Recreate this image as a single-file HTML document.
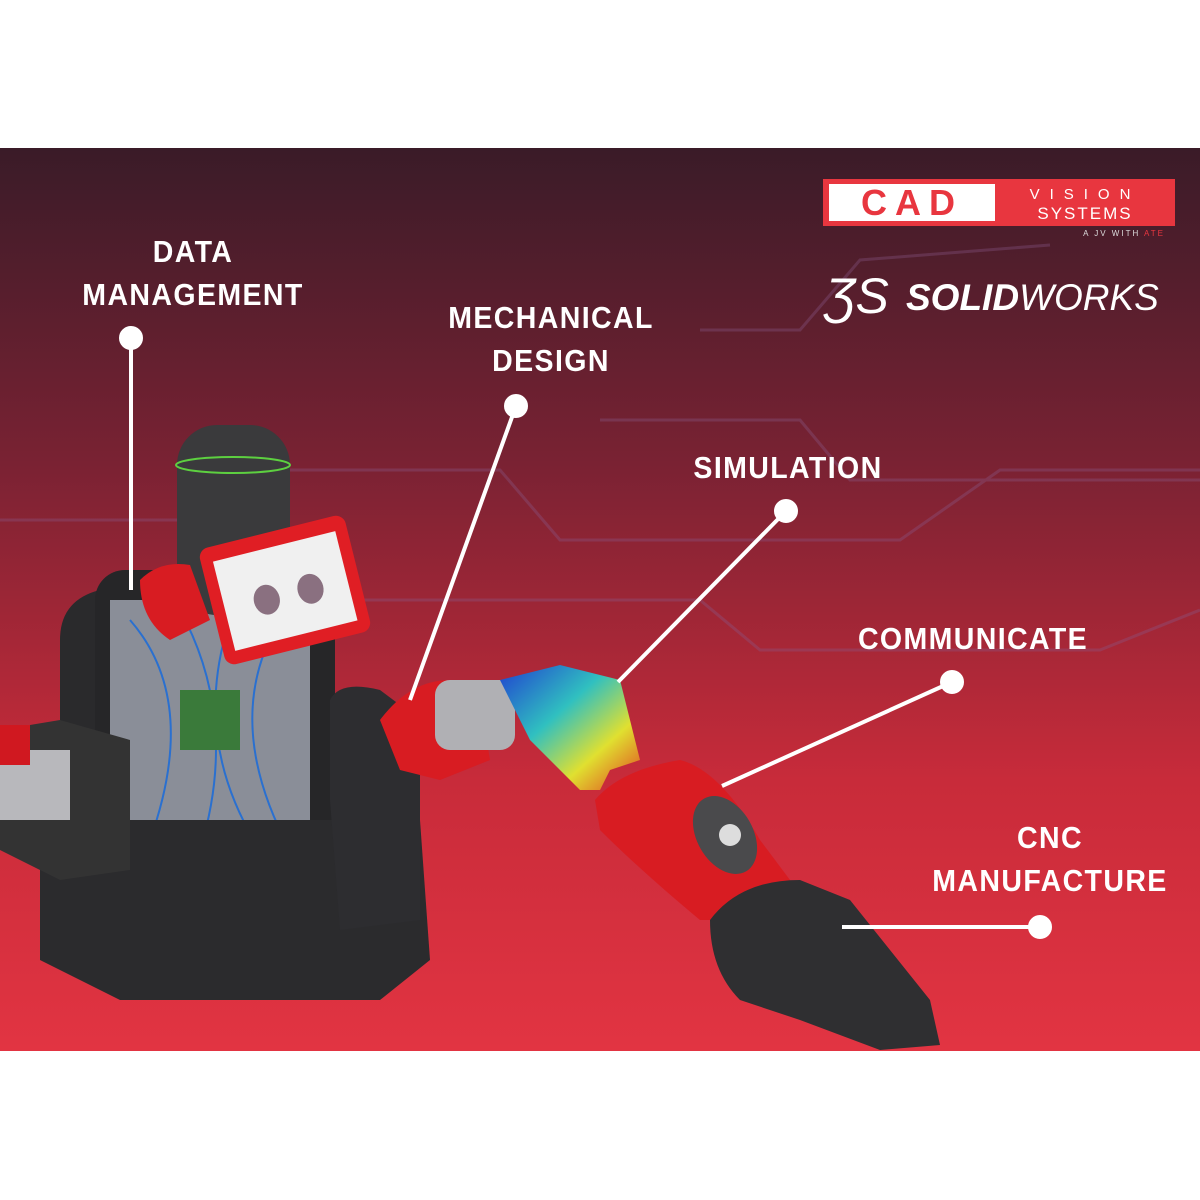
<!DOCTYPE html>
<html><head><meta charset="utf-8"><style>
html,body{margin:0;padding:0;background:#fff;}
#c{position:relative;width:1200px;height:1200px;overflow:hidden;background:#fff;font-family:"Liberation Sans",sans-serif;}
.lbl{position:absolute;color:#fff;font-weight:bold;font-size:31px;letter-spacing:1.5px;text-align:center;line-height:43px;transform:scaleX(0.92);}
</style></head><body><div id="c">
<svg width="1200" height="1200" style="position:absolute;left:0;top:0">
<defs>
<linearGradient id="bg" x1="0" y1="0" x2="0" y2="1">
<stop offset="0" stop-color="#3a1b28"/><stop offset="0.35" stop-color="#7a2233"/><stop offset="0.7" stop-color="#c82b3a"/><stop offset="1" stop-color="#e23442"/>
</linearGradient>
<linearGradient id="sim" x1="0" y1="0" x2="1" y2="1">
<stop offset="0" stop-color="#2040d0"/><stop offset="0.4" stop-color="#30c0c0"/><stop offset="0.7" stop-color="#e0e030"/><stop offset="1" stop-color="#e04020"/>
</linearGradient>
</defs>
<rect x="0" y="148" width="1200" height="903" fill="url(#bg)"/>
<g stroke="#8a5a8a" stroke-width="3" fill="none" opacity="0.35">
<polyline points="0,520 200,520 260,470 500,470 560,540 900,540 1000,470 1200,470"/>
<polyline points="300,600 700,600 760,650 1100,650 1200,610"/>
<polyline points="700,330 800,330 860,260 1050,245"/>
<polyline points="600,420 800,420 850,480 1200,480"/>
</g>
<!-- robot body -->
<path d="M60,640 Q60,600 100,590 L150,580 L150,640 L100,640 L100,820 L60,820 Z" fill="#2a2a2c"/>
<rect x="95" y="570" width="240" height="380" rx="30" fill="#262628"/>
<rect x="110" y="600" width="200" height="260" fill="#8a8e98"/>
<g stroke="#2a70d0" stroke-width="2" fill="none"><path d="M130,620 Q200,700 150,840"/><path d="M180,610 Q240,720 200,850"/><path d="M230,620 Q190,740 260,850"/><path d="M280,620 Q220,720 290,850"/></g>
<rect x="180" y="690" width="60" height="60" fill="#3a7a3a"/>
<path d="M40,820 L420,820 L430,960 L380,1000 L120,1000 L40,960 Z" fill="#2b2b2d"/>
<path d="M0,730 L60,720 L130,740 L130,870 L60,880 L0,850 Z" fill="#333"/>
<rect x="0" y="750" width="70" height="70" fill="#b8b8bc"/>
<rect x="0" y="725" width="30" height="40" fill="#d01820"/>
<path d="M330,700 Q340,680 380,690 L420,720 L420,920 L340,930 L330,800 Z" fill="#2d2d30"/>
<!-- head -->
<rect x="177" y="425" width="113" height="190" rx="40" fill="#3a3a3c"/>
<ellipse cx="233" cy="465" rx="57" ry="8" fill="none" stroke="#5dd040" stroke-width="2"/>
<path d="M140,580 Q160,560 190,565 L210,620 L170,640 Q140,620 140,580Z" fill="#d81c22"/>
<g transform="rotate(-14 285 590)"><rect x="210" y="530" width="150" height="120" rx="10" fill="#e01e24"/><rect x="222" y="545" width="126" height="92" fill="#f0f0f0"/>
<ellipse cx="265" cy="595" rx="13" ry="15" fill="#8a7080"/><ellipse cx="310" cy="595" rx="13" ry="15" fill="#8a7080"/></g>
<!-- right arm -->
<path d="M380,720 Q410,680 450,680 L480,700 L490,760 L440,780 L400,770 Z" fill="#d81c22"/>
<rect x="435" y="680" width="80" height="70" rx="15" fill="#b0b0b4"/>
<path d="M500,680 L560,665 L620,680 L640,760 L610,770 L600,790 L580,790 L530,740 Z" fill="url(#sim)"/>
<path d="M595,800 Q620,770 680,760 Q720,770 760,840 L790,880 Q780,910 740,920 L700,920 Q640,870 600,830 Z" fill="#d81c22"/>
<ellipse cx="725" cy="835" rx="28" ry="42" fill="#4a4a4c" transform="rotate(-30 725 835)"/>
<circle cx="730" cy="835" r="11" fill="#ddd"/>
<path d="M710,920 Q740,880 800,880 L850,900 L930,1000 L940,1045 L880,1050 L800,1020 L740,1000 Q710,970 710,920Z" fill="#2f2f31"/>
<!-- connectors -->
<g stroke="#fff" stroke-width="4" fill="#fff">
<line x1="131" y1="338" x2="131" y2="590"/><circle cx="131" cy="338" r="10"/>
<line x1="516" y1="406" x2="410" y2="700"/><circle cx="516" cy="406" r="10"/>
<line x1="786" y1="511" x2="618" y2="682"/><circle cx="786" cy="511" r="10"/>
<line x1="952" y1="682" x2="722" y2="786"/><circle cx="952" cy="682" r="10"/>
<line x1="1040" y1="927" x2="842" y2="927"/><circle cx="1040" cy="927" r="10"/>
</g>
<!-- logo -->
<rect x="823" y="179" width="352" height="47" fill="#e8363f"/>
<rect x="829" y="184" width="166" height="37" fill="#fff"/>
<text x="912" y="215" font-family="Liberation Sans" font-weight="bold" font-size="36" fill="#e8363f" text-anchor="middle" letter-spacing="8">CAD</text>
<text x="1085" y="199" font-family="Liberation Sans" font-size="15" fill="#fff" text-anchor="middle" letter-spacing="10">VISION</text>
<text x="1085" y="219" font-family="Liberation Sans" font-size="17" fill="#fff" text-anchor="middle" letter-spacing="2">SYSTEMS</text>
<text x="1165" y="236" font-family="Liberation Sans" font-size="8" fill="#ddd" text-anchor="end" letter-spacing="2">A JV WITH <tspan fill="#e8363f">ATE</tspan></text>
<text x="825" y="313" font-family="Liberation Sans" font-style="italic" font-size="50" fill="#fff">ƷS</text>
<text x="906" y="310" font-family="Liberation Sans" font-style="italic" font-size="37" fill="#fff"><tspan font-weight="bold">SOLID</tspan>WORKS</text>
</svg>
<div class="lbl" style="left:53px;top:230px;width:280px">DATA<br>MANAGEMENT</div>
<div class="lbl" style="left:411px;top:296px;width:280px">MECHANICAL<br>DESIGN</div>
<div class="lbl" style="left:648px;top:446px;width:280px">SIMULATION</div>
<div class="lbl" style="left:823px;top:617px;width:300px">COMMUNICATE</div>
<div class="lbl" style="left:900px;top:816px;width:300px">CNC<br>MANUFACTURE</div>
</div></body></html>
